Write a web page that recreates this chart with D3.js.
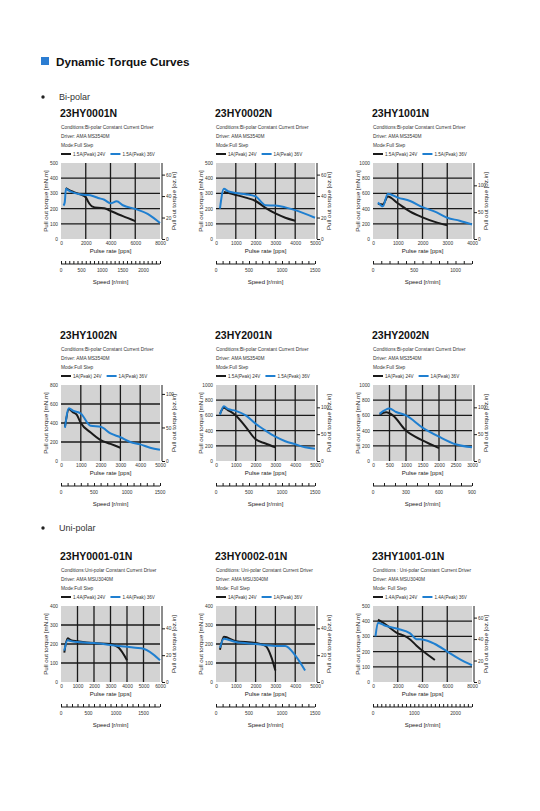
<!DOCTYPE html>
<html><head><meta charset="utf-8">
<script src="https://cdn.jsdelivr.net/npm/d3@7"></script>
<style>
html,body{margin:0;padding:0;background:#fff;}
svg{display:block;font-family:"Liberation Sans",Arial,Helvetica,sans-serif;}
</style></head>
<body>
<svg id="chart" width="540" height="811"></svg>
<script>
// ---------- DATA ----------
const sectionTitles = ["Bi-polar", "Uni-polar"];
const models = ["23HY0001N","23HY0002N","23HY1001N","23HY1002N","23HY2001N","23HY2002N","23HY0001-01N","23HY0002-01N","23HY1001-01N"];
const conditionLines = [
  "Conditions:Bi-polar Constant Current Driver","Conditions:Bi-polar Constant Current Driver","Conditions:Bi-polar Constant Current Driver",
  "Conditions:Bi-polar Constant Current Driver","Conditions:Bi-polar Constant Current Driver","Conditions:Bi-polar Constant Current Driver",
  "Conditions:Uni-polar Constant Current Driver","Conditions: Uni-polar Constant Current Driver","Conditions : Uni-polar Constant Current Driver"];
const driverLines = ["Driver: AMA MS3540M","Driver: AMA MS3540M","Driver: AMA MS3540M","Driver: AMA MS3540M","Driver: AMA MS3540M","Driver: AMA MS3540M","Driver: AMA MSU3040M","Driver: AMA MSU3040M","Driver: AMA MSU3040M"];
const modeLines = ["Mode:Full Step","Mode:Full Step","Mode:Full Step","Mode:Full Step","Mode:Full Step","Mode:Full Step","Mode:Full Step","Mode: Full Step","Mode: Full Step"];
const legend24 = ["1.5A(Peak) 24V","1A(Peak) 24V","1.5A(Peak) 24V","1A(Peak) 24V","1.5A(Peak) 24V","1A(Peak) 24V","1.4A(Peak) 24V","1A(Peak) 24V","1.4A(Peak) 24V"];
const legend36 = ["1.5A(Peak) 36V","1A(Peak) 36V","1.5A(Peak) 36V","1A(Peak) 36V","1.5A(Peak) 36V","1A(Peak) 36V","1.4A(Peak) 36V","1A(Peak) 36V","1.4A(Peak) 36V"];

const pulseTicks = [
  [0,2000,4000,6000,8000],[0,1000,2000,3000,4000,5000],[0,1000,2000,3000,4000],
  [0,1000,2000,3000,4000,5000],[0,1000,2000,3000,4000,5000],[0,500,1000,1500,2000,2500,3000],
  [0,1000,2000,3000,4000,5000,6000],[0,1000,2000,3000,4000,5000],[0,2000,4000,6000,8000]];
const torqueTicks = [
  [0,100,200,300,400,500],[0,100,200,300,400,500],[0,200,400,600,800,1000],
  [0,200,400,600,800],[0,200,400,600,800,1000],[0,200,400,600,800,1000],
  [0,100,200,300,400],[0,100,200,300,400],[0,100,200,300,400,500]];
const ozTicks = [
  [0,20,40,60],[0,20,40,60],[0,50,100],[0,50,100],[0,50,100],[0,50,100],[0,20,40],[0,20,40],[0,20,40,60]];
const speedLabels = [
  [0,500,1000,1500,2000],[0,500,1000,1500],[0,500,1000],[0,500,1000,1500],[0,500,1000,1500],[0,300,600,900],
  [0,500,1000,1500],[0,500,1000,1500],[0,1000,2000]];

// torque curves [pulse rate pps, torque mN.m]
const hy0001N_24 = [[380,335],[700,320],[1000,310],[1500,295],[2000,275],[2200,245],[2500,215],[3000,205],[3500,203],[4000,185],[5000,150],[6000,118]];
const hy0001N_36 = [[200,220],[300,240],[400,330],[600,320],[1000,305],[1500,295],[2000,290],[2500,285],[3000,270],[3500,258],[4000,235],[4500,248],[5000,222],[6000,198],[7000,165],[8000,105]];
const hy0002N_24 = [[400,310],[1000,290],[1500,272],[2000,250],[2500,205],[3000,168],[3500,140],[4000,120]];
const hy0002N_36 = [[200,200],[400,330],[600,315],[1000,302],[1500,295],[2000,280],[2500,222],[3000,220],[3500,208],[4000,190],[5000,140]];
const hy1001N_24 = [[200,465],[400,455],[600,560],[1000,470],[1500,360],[2000,285],[2500,225],[3000,180]];
const hy1001N_36 = [[200,480],[400,430],[600,595],[1000,545],[1500,500],[2000,420],[2500,360],[3000,280],[3500,240],[4000,190]];
const hy1002N_24 = [[200,360],[400,545],[600,515],[800,485],[1000,400],[1500,300],[2000,220],[2500,180],[3000,140]];
const hy1002N_36 = [[200,350],[400,555],[600,530],[1000,500],[1500,370],[2000,360],[2500,290],[3000,250],[3500,200],[4000,175],[4500,140],[5000,118]];
const hy2001N_24 = [[200,620],[400,700],[600,670],[1000,600],[1500,450],[2000,285],[2500,230],[3000,180]];
const hy2001N_36 = [[200,610],[400,720],[600,685],[1000,660],[1500,600],[2000,490],[2500,400],[3000,320],[3500,260],[4000,220],[4500,180],[5000,160]];
const hy2002N_24 = [[200,610],[400,640],[600,600],[1000,400],[1500,270],[2000,170]];
const hy2002N_36 = [[200,620],[500,690],[700,645],[1000,600],[1500,440],[2000,320],[2500,220],[3000,180]];
const hy0001_01N_24 = [[200,155],[400,230],[600,220],[1000,215],[2000,205],[3000,200],[3500,180],[4000,115]];
const hy0001_01N_36 = [[200,165],[400,220],[600,215],[1000,210],[2000,205],[3000,195],[4000,185],[4500,180],[5000,175],[6000,115]];
const hy0002_01N_24 = [[200,170],[400,238],[1000,215],[2000,205],[2500,190],[2800,130],[3000,60]];
const hy0002_01N_36 = [[200,180],[400,228],[1000,210],[2000,200],[3000,190],[3500,190],[4000,140],[4500,60]];
const hy1001_01N_24 = [[400,410],[1000,380],[2000,320],[2500,305],[3000,280],[3500,240],[4000,205],[5000,145]];
const hy1001_01N_36 = [[200,300],[400,390],[1000,370],[2000,350],[3000,320],[3500,282],[4000,280],[5000,250],[6000,200],[7000,150],[8000,110]];

const curves24 = [hy0001N_24,hy0002N_24,hy1001N_24,hy1002N_24,hy2001N_24,hy2002N_24,hy0001_01N_24,hy0002_01N_24,hy1001_01N_24];
const curves36 = [hy0001N_36,hy0002N_36,hy1001N_36,hy1002N_36,hy2001N_36,hy2002N_36,hy0001_01N_36,hy0002_01N_36,hy1001_01N_36];

// ---------- LAYOUT ----------
const BLUE = "#1f7fd0", BLACK = "#1a1a1a", GRAY = "#d3d3d3";
const colX = [61, 216, 373];
const rowY = [163, 385, 606];
const PW = 99, PH = 76;
const MN_TO_OZ = 0.1416119;
const fmt = d => String(d);
const svg = d3.select("#chart");

// header
svg.append("rect").attr("x",41).attr("y",57).attr("width",8).attr("height",8).attr("fill","#2b7dd2");
svg.append("text").attr("x",56).attr("y",66).attr("font-size",11.7).attr("font-weight","bold").attr("fill","#111").text("Dynamic Torque Curves");
[97, 528].forEach((y,i)=>{
  svg.append("circle").attr("cx",43).attr("cy",y).attr("r",1.7).attr("fill","#222");
  svg.append("text").attr("x",59).attr("y",y+3).attr("font-size",9).attr("fill","#333").text(sectionTitles[i]);
});

models.forEach((m,i)=>{
  const x0 = colX[i%3], y0 = rowY[Math.floor(i/3)];
  const g = svg.append("g");
  const xMax = d3.max(pulseTicks[i]), yMax = d3.max(torqueTicks[i]);
  const x = d3.scaleLinear().domain([0,xMax]).range([x0,x0+PW]);
  const y = d3.scaleLinear().domain([0,yMax]).range([y0+PH,y0]);
  const yOz = d3.scaleLinear().domain([0,yMax*MN_TO_OZ]).range([y0+PH,y0]);
  const speed = d3.scaleLinear().domain([0,xMax*0.3]).range([x0,x0+PW]);

  g.append("text").attr("x",x0-1).attr("y",y0-46).attr("font-size",10.5).attr("font-weight","bold").attr("fill","#111").text(m);
  [conditionLines[i],driverLines[i],modeLines[i]].forEach((t,k)=>{
    g.append("text").attr("x",x0).attr("y",y0-34+k*9).attr("font-size",4.8).attr("fill","#333").text(t);
  });
  // legend
  const ly = y0-9;
  g.append("line").attr("x1",x0).attr("x2",x0+10).attr("y1",ly).attr("y2",ly).attr("stroke",BLACK).attr("stroke-width",2);
  const t1 = g.append("text").attr("x",x0+12).attr("y",ly+1.7).attr("font-size",4.6).attr("fill","#333").text(legend24[i]);
  const w1 = t1.node().getComputedTextLength();
  const bx = x0+12+w1+5;
  g.append("line").attr("x1",bx).attr("x2",bx+10).attr("y1",ly).attr("y2",ly).attr("stroke",BLUE).attr("stroke-width",2);
  g.append("text").attr("x",bx+12).attr("y",ly+1.7).attr("font-size",4.6).attr("fill","#333").text(legend36[i]);

  // plot background
  g.append("rect").attr("x",x0).attr("y",y0).attr("width",PW).attr("height",PH).attr("fill",GRAY);
  // grid
  g.selectAll(".gx").data(pulseTicks[i].slice(1,-1)).join("line")
    .attr("x1",d=>x(d)).attr("x2",d=>x(d)).attr("y1",y0).attr("y2",y0+PH).attr("stroke",BLACK).attr("stroke-width",1.3);
  g.selectAll(".gy").data(torqueTicks[i].slice(1,-1)).join("line")
    .attr("x1",x0).attr("x2",x0+PW).attr("y1",d=>y(d)).attr("y2",d=>y(d)).attr("stroke",BLACK).attr("stroke-width",1.3);

  // curves
  const line = d3.line().x(d=>x(d[0])).y(d=>y(d[1])).curve(d3.curveMonotoneX);
  g.append("path").attr("d",line(curves24[i])).attr("fill","none").attr("stroke",BLACK).attr("stroke-width",2).attr("stroke-linejoin","round");
  g.append("path").attr("d",line(curves36[i])).attr("fill","none").attr("stroke",BLUE).attr("stroke-width",2).attr("stroke-linejoin","round");

  // left axis labels
  const ya = g.append("g").attr("transform",`translate(${x0},0)`)
    .call(d3.axisLeft(y).tickValues(torqueTicks[i]).tickFormat(fmt).tickSize(0).tickPadding(3));
  ya.select(".domain").remove();
  ya.selectAll("text").attr("font-size",4.8).attr("fill","#333").attr("font-family",null);
  // bottom labels
  const xa = g.append("g").attr("transform",`translate(0,${y0+PH})`)
    .call(d3.axisBottom(x).tickValues(pulseTicks[i]).tickFormat(fmt).tickSize(0).tickPadding(3));
  xa.select(".domain").remove();
  xa.selectAll("text").attr("font-size",4.8).attr("fill","#333").attr("font-family",null);
  // right oz axis
  const ra = g.append("g").attr("transform",`translate(${x0+PW+2},0)`)
    .call(d3.axisRight(yOz).tickValues(ozTicks[i]).tickFormat(fmt).tickSize(3).tickPadding(1));
  ra.select(".domain").attr("d",`M0,${y0}V${y0+PH}`).attr("stroke",BLACK).attr("stroke-width",1);
  ra.selectAll("line").attr("stroke",BLACK);
  ra.selectAll("text").attr("font-size",4.8).attr("fill","#333").attr("font-family",null);
  // speed axis
  const sy = y0+PH+25;
  const sa = g.append("g").attr("transform",`translate(0,${sy})`)
    .call(d3.axisTop(speed).tickValues(d3.range(0,xMax*0.3+1,100)).tickSize(3).tickFormat(""));
  sa.select(".domain").attr("d",`M${x0},0H${x0+PW}`).attr("stroke",BLACK);
  sa.selectAll("line").attr("stroke",BLACK);
  g.selectAll(".sl").data(speedLabels[i]).join("text")
    .attr("x",d=>speed(d)).attr("y",sy+7.5).attr("text-anchor","middle").attr("font-size",4.8).attr("fill","#333").text(fmt);

  // titles
  g.append("text").attr("x",x0+PW/2).attr("y",y0+PH+14).attr("text-anchor","middle").attr("font-size",6).attr("fill","#222").text("Pulse rate [pps]");
  g.append("text").attr("x",x0+PW/2).attr("y",sy+20).attr("text-anchor","middle").attr("font-size",6).attr("fill","#222").text("Speed [r/min]");
  g.append("text").attr("transform",`translate(${x0-13},${y0+PH/2}) rotate(-90)`).attr("text-anchor","middle").attr("font-size",6.2).attr("fill","#222").text("Pull out torque [mN.m]");
  g.append("text").attr("transform",`translate(${x0+PW+16},${y0+PH/2}) rotate(-90)`).attr("text-anchor","middle").attr("font-size",6.2).attr("fill","#222").text("Pull out torque [oz.in]");
});
</script>
</body></html>
